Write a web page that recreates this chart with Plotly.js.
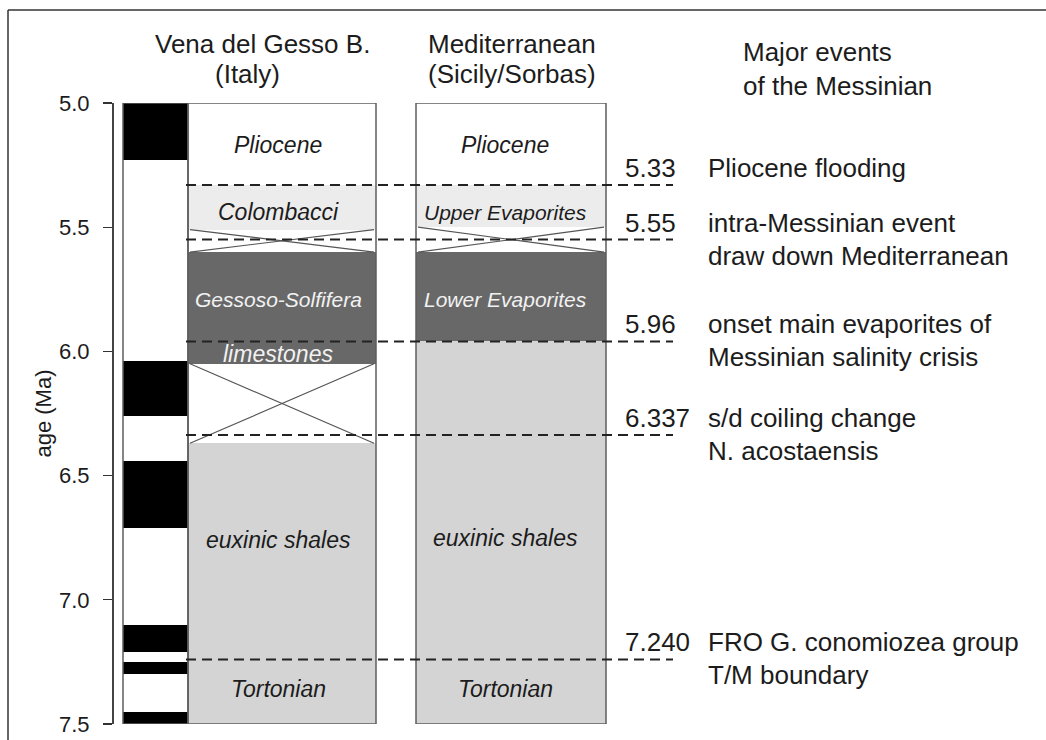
<!DOCTYPE html>
<html>
<head>
<meta charset="utf-8">
<script src="https://cdn.plot.ly/plotly-3.0.1.min.js"></script>
<style>
  html, body { margin: 0; padding: 0; background: #ffffff; }
  #chart { width: 1046px; height: 740px; }
</style>
</head>
<body>
<div id="chart"></div>
<script>
// ---------------- DATA ----------------
const ageTicks = [5.0, 5.5, 6.0, 6.5, 7.0, 7.5];
const sectionTop = 5.0;
const sectionBase = 7.5;

// magnetic polarity (black = normal)
const polarityTop  = [5.00, 6.04, 6.44, 7.10, 7.25, 7.45];
const polarityBase = [5.23, 6.26, 6.71, 7.21, 7.30, 7.50];

// Vena del Gesso Basin (Italy)
const venaTop  = [5.00, 5.33, 5.51, 5.60, 6.05, 6.37];
const venaBase = [5.33, 5.51, 5.60, 6.05, 6.37, 7.50];
const venaFill = ['none', 'light', 'hiatus', 'dark', 'hiatus', 'medium'];
const venaLabels   = ['Pliocene', 'Colombacci', 'Gessoso-Solfifera', 'limestones', 'euxinic shales', 'Tortonian'];
const venaLabelAge = [5.17, 5.44, 5.79, 6.01, 6.76, 7.36];

// Mediterranean (Sicily / Sorbas)
const medTop  = [5.00, 5.33, 5.50, 5.60, 5.96];
const medBase = [5.33, 5.50, 5.60, 5.96, 7.50];
const medFill = ['none', 'light', 'hiatus', 'dark', 'medium'];
const medLabels   = ['Pliocene', 'Upper Evaporites', 'Lower Evaporites', 'euxinic shales', 'Tortonian'];
const medLabelAge = [5.17, 5.44, 5.79, 6.75, 7.36];

// Major events of the Messinian
const eventAge     = [5.33, 5.55, 5.96, 6.337, 7.24];
const eventAgeText = ['5.33', '5.55', '5.96', '6.337', '7.240'];
const eventLine1   = ['Pliocene flooding', 'intra-Messinian event', 'onset main evaporites of', 's/d coiling change', 'FRO G. conomiozea group'];
const eventLine2   = ['', 'draw down Mediterranean', 'Messinian salinity crisis', 'N. acostaensis', 'T/M boundary'];

// headers
const headerVena = ['Vena del Gesso B.', '(Italy)'];
const headerMed  = ['Mediterranean', '(Sicily/Sorbas)'];
const headerEvents = ['Major events', 'of the Messinian'];

// ---------------- STYLE / GEOMETRY ----------------
const W = 1046, H = 740, TOP = 103, BOTTOM = 16;
const FONT = 'Liberation Sans, Arial, Helvetica, sans-serif';
const TXT = '#1c1c1c';
const FILL = { light: '#ececec', dark: '#686868', medium: '#d4d4d4' };
const COL = {
  pol:  { x0: 123, x1: 188 },
  vena: { x0: 188, x1: 376, labelX: 278 },
  med:  { x0: 416, x1: 606, labelX: 505 }
};
const labelSize = { 'Gessoso-Solfifera': 21, 'Upper Evaporites': 21, 'Lower Evaporites': 21 };
const plotH = H - TOP - BOTTOM;
const py2paper = py => (H - BOTTOM - py) / plotH;

// ---------------- TRACES ----------------
const traces = [];

function layerFills(tops, bases, fills, col) {
  const cx = (col.x0 + col.x1) / 2, w = col.x1 - col.x0;
  ['light', 'medium', 'dark'].forEach(f => {
    const idx = fills.map((v, i) => v === f ? i : -1).filter(i => i >= 0);
    if (!idx.length) return;
    traces.push({
      type: 'bar', x: idx.map(() => cx), base: idx.map(i => tops[i]),
      y: idx.map(i => bases[i] - tops[i]), width: idx.map(() => w),
      marker: { color: FILL[f], line: { width: 0 } },
      hoverinfo: 'skip', showlegend: false
    });
  });
}
function hiatusLines(tops, bases, fills, col) {
  const xs = [], ys = [];
  fills.forEach((f, i) => {
    if (f !== 'hiatus') return;
    xs.push(col.x0 + 2, col.x1 - 2, null, col.x0 + 2, col.x1 - 2, null);
    ys.push(tops[i], bases[i], null, bases[i], tops[i], null);
  });
  traces.push({
    type: 'scatter', mode: 'lines', x: xs, y: ys,
    line: { color: '#555555', width: 1.2 }, hoverinfo: 'skip', showlegend: false
  });
}

layerFills(venaTop, venaBase, venaFill, COL.vena);
layerFills(medTop, medBase, medFill, COL.med);
hiatusLines(venaTop, venaBase, venaFill, COL.vena);
hiatusLines(medTop, medBase, medFill, COL.med);

// polarity black bars
traces.push({
  type: 'bar',
  x: polarityTop.map(() => (COL.pol.x0 + COL.pol.x1) / 2),
  base: polarityTop,
  y: polarityTop.map((t, i) => polarityBase[i] - t),
  width: polarityTop.map(() => COL.pol.x1 - COL.pol.x0),
  marker: { color: '#000000', line: { width: 0 } },
  hoverinfo: 'skip', showlegend: false
});

// column outlines
const cols = [COL.pol, COL.vena, COL.med];
traces.push({
  type: 'bar',
  x: cols.map(c => (c.x0 + c.x1) / 2),
  base: cols.map(() => sectionTop),
  y: cols.map(() => sectionBase - sectionTop),
  width: cols.map(c => c.x1 - c.x0),
  marker: { color: 'rgba(0,0,0,0)', line: { color: '#5e5e5e', width: 1.5 } },
  hoverinfo: 'skip', showlegend: false
});

// dashed event lines
const dx = [], dy = [];
eventAge.forEach(a => { dx.push(186, 673, null); dy.push(a, a, null); });
traces.push({
  type: 'scatter', mode: 'lines', x: dx, y: dy,
  line: { color: '#222222', width: 2, dash: '10px,6px' },
  hoverinfo: 'skip', showlegend: false
});

// ---------------- ANNOTATIONS ----------------
const annotations = [];
function colLabels(labels, ages, col, tops, bases, fills) {
  labels.forEach((t, i) => {
    const a = ages[i];
    let fill = 'none';
    tops.forEach((tp, j) => { if (a >= tp && a < bases[j]) fill = fills[j]; });
    annotations.push({
      xref: 'x', yref: 'y', x: col.labelX, y: a, text: '<i>' + t + '</i>',
      showarrow: false, xanchor: 'center', yanchor: 'middle',
      font: { family: FONT, size: labelSize[t] || 23, color: fill === 'dark' ? '#f2f2f2' : TXT }
    });
  });
}
colLabels(venaLabels, venaLabelAge, COL.vena, venaTop, venaBase, venaFill);
colLabels(medLabels, medLabelAge, COL.med, medTop, medBase, medFill);

eventAge.forEach((a, i) => {
  annotations.push({
    xref: 'x', yref: 'y', x: 623, y: a, yshift: 17, text: eventAgeText[i],
    showarrow: false, xanchor: 'left', yanchor: 'middle',
    font: { family: FONT, size: 26, color: TXT }
  });
  annotations.push({
    xref: 'x', yref: 'y', x: 706, y: a, yshift: 17, text: eventLine1[i],
    showarrow: false, xanchor: 'left', yanchor: 'middle',
    font: { family: FONT, size: 26, color: TXT }
  });
  if (eventLine2[i]) annotations.push({
    xref: 'x', yref: 'y', x: 706, y: a, yshift: -16, text: eventLine2[i],
    showarrow: false, xanchor: 'left', yanchor: 'middle',
    font: { family: FONT, size: 26, color: TXT }
  });
});

function header(lines, xs, ys, anchor) {
  lines.forEach((t, i) => annotations.push({
    xref: 'x', yref: 'paper', x: xs[i], y: py2paper(ys[i]), text: t,
    showarrow: false, xanchor: anchor, yanchor: 'middle',
    font: { family: FONT, size: 26, color: TXT }
  }));
}
header(headerVena, [262, 247], [44, 74], 'center');
header(headerMed, [512, 512], [44, 74], 'center');
header(headerEvents, [741, 741], [52, 86], 'left');

// ---------------- LAYOUT ----------------
const layout = {
  width: W, height: H,
  margin: { l: 0, r: 0, t: TOP, b: BOTTOM, pad: 0 },
  paper_bgcolor: '#ffffff', plot_bgcolor: 'rgba(0,0,0,0)',
  barmode: 'overlay', bargap: 0,
  showlegend: false,
  font: { family: FONT, color: TXT },
  xaxis: { range: [0, W], visible: false, fixedrange: true },
  yaxis: {
    range: [sectionBase, sectionTop], anchor: 'free', position: 112 / W,
    tickvals: ageTicks, ticktext: ageTicks.map(v => v.toFixed(1)),
    ticks: 'outside', ticklen: 9, tickwidth: 1.2, tickcolor: '#333333',
    showline: true, linecolor: '#444444', linewidth: 1.5,
    showgrid: false, zeroline: false, automargin: false,
    ticklabelstandoff: 9,
    tickfont: { family: FONT, size: 22, color: TXT },
    title: { text: 'age (Ma)', standoff: 0, font: { family: FONT, size: 22, color: TXT } },
    fixedrange: true
  },
  shapes: [
    { type: 'line', xref: 'paper', yref: 'paper', x0: 8 / W, x1: 8 / W, y0: py2paper(10), y1: py2paper(742), line: { color: '#333333', width: 1.5 } },
    { type: 'line', xref: 'paper', yref: 'paper', x0: 8 / W, x1: 1.01, y0: py2paper(10), y1: py2paper(10), line: { color: '#333333', width: 1.5 } }
  ],
  annotations: annotations
};

Plotly.newPlot('chart', traces, layout, { displayModeBar: false, staticPlot: true });
</script>
</body>
</html>
